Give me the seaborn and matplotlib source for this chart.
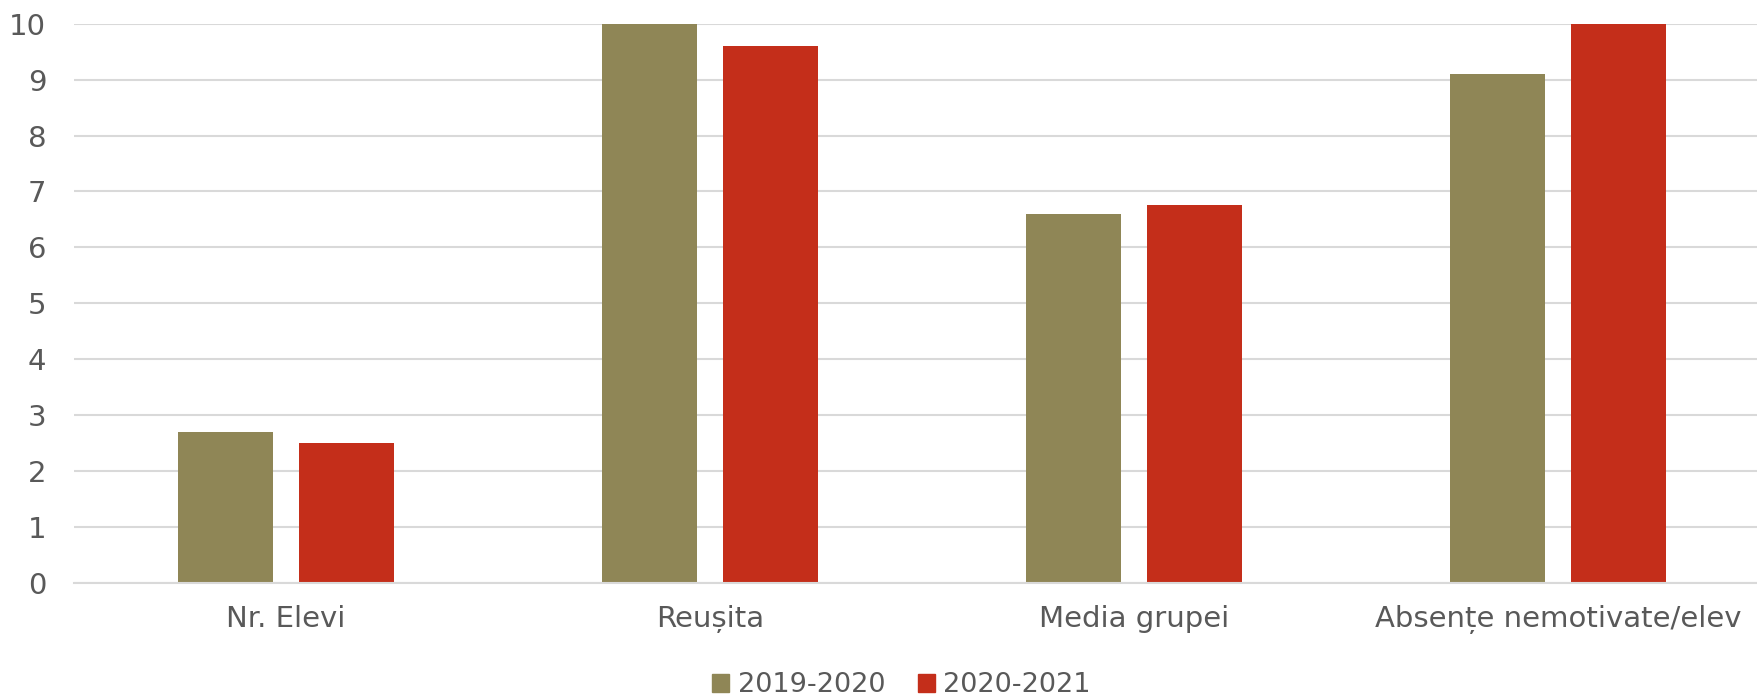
import pandas as pd
import matplotlib.pyplot as plt
import seaborn as sns

# data
categories = ["Nr. Elevi", "Reușita", "Media grupei", "Absențe nemotivate/elev"]
years = ["2019-2020", "2020-2021"]
values_2019 = [2.7, 10.0, 6.6, 9.1]
values_2020 = [2.5, 9.6, 6.75, 10.0]
colors = ["#8F8656", "#C42E1A"]

df = pd.DataFrame({
    "Categorie": categories * 2,
    "An": [years[0]] * 4 + [years[1]] * 4,
    "Valoare": values_2019 + values_2020,
})

sns.set_style("white")
plt.rcParams["font.family"] = ["DejaVu Sans"]
text_color = "#595959"
grid_color = "#D9D9D9"

fig = plt.figure(figsize=(17.57, 6.98), dpi=100)
ax = fig.add_axes([0.0421, 0.165, 0.9579, 0.801])

sns.barplot(data=df, x="Categorie", y="Valoare", hue="An", palette=colors,
            width=0.569, gap=0.213, saturation=1, linewidth=0, ax=ax, legend=True)

ax.set_ylim(0, 10)
ax.set_xlim(-0.5, 3.469)
ax.set_yticks(range(0, 11))
ax.yaxis.grid(True, color=grid_color, linewidth=1.5)
ax.set_axisbelow(True)
for side in ["top", "right", "left"]:
    ax.spines[side].set_visible(False)
ax.spines["bottom"].set_color(grid_color)
ax.spines["bottom"].set_linewidth(1.5)
ax.tick_params(axis="both", length=0, labelsize=21, colors=text_color)
ax.tick_params(axis="y", pad=20)
ax.tick_params(axis="x", pad=16)
ax.set_xlabel("")
ax.set_ylabel("")

ax.get_legend().remove()
handles = [plt.Rectangle((0, 0), 1, 1, color=c) for c in colors]
leg = fig.legend(handles, years, loc="lower center", bbox_to_anchor=(0.513, -0.035),
                 ncol=2, frameon=False, fontsize=19.5, handlelength=0.65, handleheight=0.65,
                 handletextpad=0.3, columnspacing=1.2)
for t in leg.get_texts():
    t.set_color(text_color)

fig.savefig("out.png", dpi=100)
